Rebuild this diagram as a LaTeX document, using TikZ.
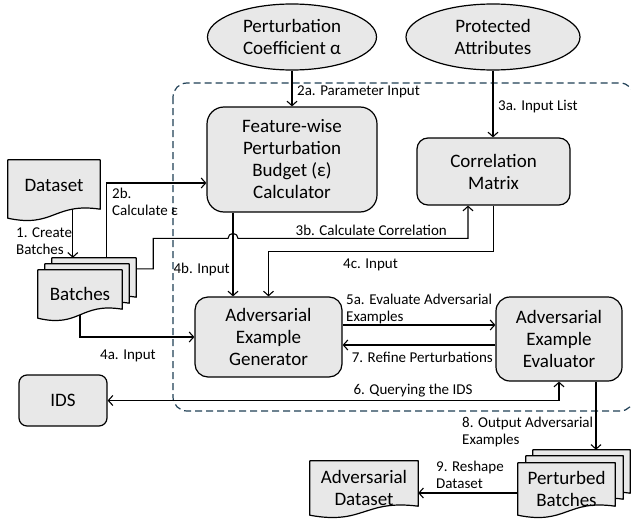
\documentclass[tikz,border=0pt]{standalone}
\usepackage{fontspec}
\setmainfont{Carlito}
\usepackage{tikz}
\usetikzlibrary{arrows.meta,shapes.geometric,calc,backgrounds}
\definecolor{boxgray}{HTML}{E8E8E8}
\definecolor{frameblue}{HTML}{1F3F55}
\tikzset{
  procbox/.style   = {draw,fill=boxgray,line width=1.2pt,align=center,font=\fontsize{19}{22}\selectfont},
  ovalbox/.style   = {ellipse,draw,fill=boxgray,line width=1.2pt,align=center,inner sep=0pt,font=\fontsize{19}{22}\selectfont},
  docbox/.style    = {align=center,inner sep=0pt,font=\fontsize{19}{22}\selectfont},
  docline/.style   = {draw,fill=boxgray,line width=1.2pt,line join=round},
  flowarr/.style   = {-{Straight Barb[length=4.5pt,width=10pt]},line width=1.1pt},
  twoarr/.style    = {{Straight Barb[length=4.5pt,width=10pt]}-{Straight Barb[length=4.5pt,width=10pt]},line width=1.1pt},
  lbl/.style       = {font=\fontsize{15}{17}\selectfont,align=left,inner sep=1pt},
  frameline/.style = {frameblue,dash pattern=on 7pt off 4pt,line width=1.2pt,rounded corners=14pt}
}
\newcommand{\docshape}[3]{%
  \filldraw[docline] ($(#1.north west)+(#2,#3)$) -- ($(#1.north east)+(#2,#3)$)
    -- ($(#1.south east)+(#2,#3-9)$)
    .. controls ($(#1.south)+(#2,#3-16)$) and ($(#1.south)+(#2,#3+10)$)
    .. ($(#1.south west)+(#2,#3)$) -- cycle;
}

\begin{document}
\begin{tikzpicture}[x=1pt,y=-1pt]
  \useasboundingbox (0,0) rectangle (631,527);
  \node[ovalbox,minimum width=169pt,minimum height=66pt] (alpha) at (292,37) {Perturbation\\Coefficient α};
  \node[ovalbox,minimum width=174pt,minimum height=66pt] (prot) at (493,37) {Protected\\Attributes};
  \node[procbox,rounded corners=17pt,minimum width=170pt,minimum height=105pt] (budget) at (292,159.5) {Feature-wise\\Perturbation\\Budget (ε)\\Calculator};
  \node[procbox,rounded corners=11pt,minimum width=153pt,minimum height=67pt] (corr) at (493.5,171.5) {Correlation\\Matrix};
  \node[procbox,rounded corners=13pt,minimum width=147pt,minimum height=80pt] (gen) at (268.5,337) {Adversarial\\Example\\Generator};
  \node[procbox,rounded corners=14pt,minimum width=126pt,minimum height=84pt] (eval) at (559,339) {Adversarial\\Example\\Evaluator};
  \node[procbox,rounded corners=8pt,minimum width=88pt,minimum height=51pt] (ids) at (63,400.5) {IDS};
  \node[docbox,minimum width=92pt,minimum height=58pt,text depth=8pt] (dataset) at (54,189) {Dataset};
  \node[docbox,minimum width=84pt,minimum height=48pt] (batches) at (80,294) {Batches};
  \node[docbox,minimum width=97pt,minimum height=52pt] (pbatch) at (566.5,489) {Perturbed\\Batches};
  \node[docbox,minimum width=108pt,minimum height=54pt] (advdata) at (364,488) {Adversarial\\Dataset};

  \begin{pgfonlayer}{background}
    \draw[frameline] (173,83) rectangle (634,411);
    \docshape{dataset}{0}{0}
    \docshape{batches}{14}{-12}
    \docshape{batches}{7}{-6}
    \docshape{batches}{0}{0}
    \docshape{pbatch}{15}{-13}
    \docshape{pbatch}{8}{-7}
    \docshape{pbatch}{0}{0}
    \docshape{advdata}{0}{0}
  \end{pgfonlayer}

  \coordinate (ds1) at ($(dataset.south west)+(65,-9)$);
  \coordinate (bk1) at ($(batches.north west)+(35,-12)$);
  \coordinate (bk2) at ($(batches.north west)+(69,-12)$);
  \coordinate (bk3) at ($(batches.north east)+(14,-1)$);
  \coordinate (bt4) at ($(batches.south)+(0,-3)$);
  \coordinate (in2b) at ($(budget.west)+(0,23.5)$);
  \coordinate (in4b) at ($(gen.north)+(-35.5,0)$);
  \coordinate (hop) at ($(in4b)+(-5,-58)$);
  \coordinate (c3b) at ($(corr.south)+(-25.5,0)$);

  \draw[flowarr] (alpha) -- (budget);
  \draw[flowarr] (prot.south) -- (prot.south |- corr.north);
  \draw[flowarr] (ds1) -- (bk1);
  \draw[flowarr] (bk2) |- (in2b);
  \draw[flowarr] (bk3) -- ++(17,0) |- (hop) arc[start angle=180,end angle=360,radius=5] -- (c3b |- hop) -- (c3b);
  \draw[flowarr] (bt4) |- (gen.west);
  \draw[flowarr] (budget.south -| in4b) -- (in4b);
  \draw[flowarr] (corr.south) -- ++(0,46) -| (gen.north);
  \draw[flowarr] ($(gen.east)+(0,-12)$) -- ($(eval.west)+(0,-14)$);
  \draw[flowarr] ($(eval.west)+(0,6)$) -- ($(gen.east)+(0,8)$);
  \draw[twoarr] (eval.south) |- (ids.east);
  \draw[flowarr] ($(eval.south)+(37,0)$) -- ($(pbatch.north)+(29.5,-13)$);
  \draw[flowarr] ($(pbatch.west)+(0,4)$) -- ($(advdata.east)+(0,5)$);

  \node[lbl,anchor=west] (l1) at (15,241.5) {1. Create\\Batches};
  \node[lbl,anchor=west] (l2a) at (296,92) {2a. Parameter Input};
  \node[lbl,anchor=west] (l2b) at (111,202) {2b.\\Calculate ε};
  \node[lbl,anchor=west] (l3a) at (497,107) {3a. Input List};
  \node[lbl,anchor=east] (l3b) at (448,230) {3b. Calculate Correlation};
  \node[lbl,anchor=west] (l4a) at (99,356) {4a. Input};
  \node[lbl,anchor=east] (l4b) at (231,269) {4b. Input};
  \node[lbl,anchor=west] (l4c) at (342,265) {4c. Input};
  \node[lbl,anchor=west] (l5a) at (345,309) {5a. Evaluate Adversarial\\Examples};
  \node[lbl] (l6) at (413,391) {6. Querying the IDS};
  \node[lbl,anchor=east] (l7) at (494,357) {7. Refine Perturbations};
  \node[lbl,anchor=west] (l8) at (461,431.5) {8. Output Adversarial\\Examples};
  \node[lbl,anchor=west] (l9) at (435,474.5) {9. Reshape\\Dataset};
\end{tikzpicture}
\end{document}
